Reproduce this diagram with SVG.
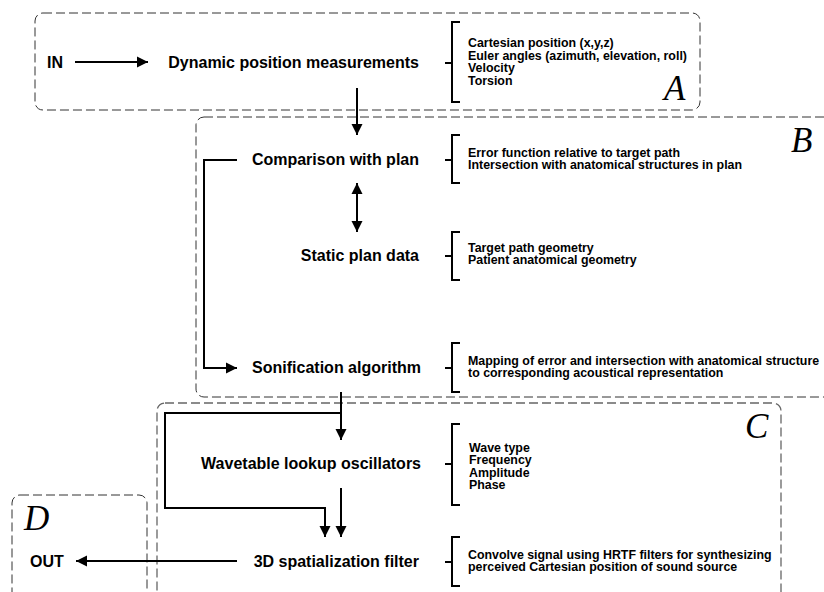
<svg xmlns="http://www.w3.org/2000/svg" width="824" height="592" viewBox="0 0 824 592">
<style>
.box{fill:none;stroke:#333;stroke-width:1;stroke-dasharray:9 4}
.boxc{fill:none;stroke:#666;stroke-width:1.3;stroke-dasharray:9 4}
.main{font-family:"Liberation Sans",Arial,sans-serif;font-weight:bold;font-size:16px;fill:#000}
.note{font-family:"Liberation Sans",Arial,sans-serif;font-weight:bold;font-size:12.4px;fill:#000}
.big{font-family:"Liberation Serif","Times New Roman",serif;font-style:italic;font-size:35px;fill:#000}
.ln{fill:none;stroke:#000;stroke-width:2}
.br{fill:none;stroke:#000;stroke-width:2}
</style>
<defs>
<marker id="ah" markerUnits="userSpaceOnUse" markerWidth="12" markerHeight="12" refX="11" refY="6" orient="auto-start-reverse">
<path d="M0,0.5 L11,6 L0,11.5 z" fill="#000"/>
</marker>
</defs>
<rect width="824" height="592" fill="#fff"/>

<g id="groups">
<rect id="boxA" class="box" x="35" y="13" width="665" height="97" rx="8"/>
<rect id="boxB" class="box" x="196" y="117" width="660" height="280" rx="8"/>
<rect id="boxC" class="boxc" x="157" y="403" width="624" height="220" rx="8"/>
<rect id="boxD" class="box" x="12" y="495" width="135" height="120" rx="8"/>
<text class="big" x="664" y="100">A</text>
<text class="big" x="791" y="152">B</text>
<text class="big" x="745" y="438">C</text>
<text class="big" x="24" y="530">D</text>
</g>

<g id="in"><text class="main" x="47" y="68">IN</text></g>
<g id="out"><text class="main" x="30" y="567">OUT</text></g>

<g id="dynamic">
<text class="main" x="419" y="68" text-anchor="end">Dynamic position measurements</text>
<path class="br" d="M460,22 H452 V102 H460 M452,63 H445"/>
<text class="note" x="468" y="47">Cartesian position (x,y,z)</text>
<text class="note" x="468" y="59.5">Euler angles (azimuth, elevation, roll)</text>
<text class="note" x="468" y="72">Velocity</text>
<text class="note" x="468" y="84.5">Torsion</text>
</g>

<g id="comparison">
<text class="main" x="419" y="165" text-anchor="end">Comparison with plan</text>
<path class="br" d="M460,135 H452 V183 H460 M452,160 H445"/>
<text class="note" x="468" y="157">Error function relative to target path</text>
<text class="note" x="468" y="169">Intersection with anatomical structures in plan</text>
</g>

<g id="static">
<text class="main" x="419" y="261" text-anchor="end">Static plan data</text>
<path class="br" d="M460,232 H452 V280 H460 M452,256 H445"/>
<text class="note" x="468" y="252">Target path geometry</text>
<text class="note" x="468" y="264">Patient anatomical geometry</text>
</g>

<g id="sonification">
<text class="main" x="421" y="373" text-anchor="end">Sonification algorithm</text>
<path class="br" d="M460,343 H452 V392 H460 M452,368 H445"/>
<text class="note" x="468" y="365">Mapping of error and intersection with anatomical structure</text>
<text class="note" x="468" y="377">to corresponding acoustical representation</text>
</g>

<g id="wavetable">
<text class="main" x="421" y="469" text-anchor="end">Wavetable lookup oscillators</text>
<path class="br" d="M460,424 H452 V505 H460 M452,464 H445"/>
<text class="note" x="469" y="452">Wave type</text>
<text class="note" x="469" y="464.3">Frequency</text>
<text class="note" x="469" y="476.6">Amplitude</text>
<text class="note" x="469" y="489">Phase</text>
</g>

<g id="spatialization">
<text class="main" x="419" y="567" text-anchor="end">3D spatialization filter</text>
<path class="br" d="M460,537 H452 V586 H460 M452,562 H445"/>
<text class="note" x="468" y="559">Convolve signal using HRTF filters for synthesizing</text>
<text class="note" x="468" y="571">perceived Cartesian position of sound source</text>
</g>

<g id="connectors">
<line class="ln" x1="75" y1="62" x2="148" y2="62" marker-end="url(#ah)"/>
<line class="ln" x1="357" y1="88" x2="357" y2="135" marker-end="url(#ah)"/>
<line class="ln" x1="357" y1="183" x2="357" y2="232" marker-start="url(#ah)" marker-end="url(#ah)"/>
<polyline class="ln" points="237,160 204,160 204,368 237,368" marker-end="url(#ah)"/>
<line class="ln" x1="341" y1="392" x2="341" y2="440" marker-end="url(#ah)"/>
<polyline class="ln" points="341,413 165,413 165,508 325,508 325,537" marker-end="url(#ah)"/>
<line class="ln" x1="341" y1="488" x2="341" y2="537" marker-end="url(#ah)"/>
<line class="ln" x1="237" y1="561" x2="76" y2="561" marker-end="url(#ah)"/>
</g>
</svg>
